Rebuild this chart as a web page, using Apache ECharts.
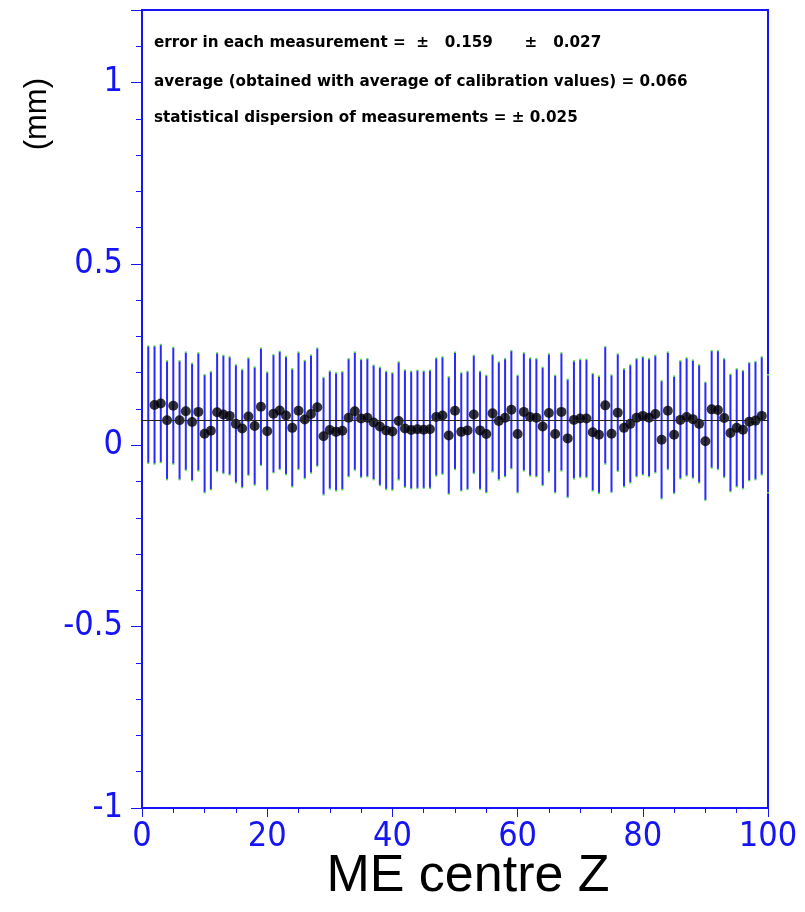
<!DOCTYPE html>
<html>
<head>
<meta charset="utf-8">
<script src="https://cdn.jsdelivr.net/npm/echarts@6/dist/echarts.min.js"></script>
<style>
  html, body { margin: 0; padding: 0; background: #fff; }
  #chart { width: 805px; height: 912px; }
</style>
</head>
<body>
<div id="chart"></div>
<script>
// measurement position along Z (one per ME)
const zPos = [
  1, 2, 3, 4, 5, 6, 7, 8, 9, 10, 11, 12, 13, 14, 15, 16, 17, 18, 19, 20,
  21, 22, 23, 24, 25, 26, 27, 28, 29, 30, 31, 32, 33, 34, 35, 36, 37, 38, 39, 40,
  41, 42, 43, 44, 45, 46, 47, 48, 49, 50, 51, 52, 53, 54, 55, 56, 57, 58, 59, 60,
  61, 62, 63, 64, 65, 66, 67, 68, 69, 70, 71, 72, 73, 74, 75, 76, 77, 78, 79, 80,
  81, 82, 83, 84, 85, 86, 87, 88, 89, 90, 91, 92, 93, 94, 95, 96, 97, 98, 99, 100
]
// measured value (mm)
const measured = [
  0.112, 0.111, 0.115, 0.069, 0.109, 0.069, 0.094, 0.064, 0.092, 0.032,
  0.040, 0.091, 0.085, 0.081, 0.059, 0.046, 0.079, 0.053, 0.106, 0.039,
  0.087, 0.096, 0.082, 0.048, 0.095, 0.071, 0.086, 0.105, 0.025, 0.042,
  0.037, 0.040, 0.076, 0.094, 0.074, 0.076, 0.063, 0.052, 0.041, 0.038,
  0.067, 0.046, 0.042, 0.044, 0.043, 0.044, 0.078, 0.082, 0.027, 0.095,
  0.037, 0.041, 0.085, 0.041, 0.031, 0.088, 0.067, 0.076, 0.098, 0.031,
  0.092, 0.078, 0.076, 0.052, 0.089, 0.031, 0.092, 0.019, 0.070, 0.074,
  0.074, 0.036, 0.029, 0.110, 0.032, 0.090, 0.048, 0.059, 0.076, 0.081,
  0.076, 0.086, 0.015, 0.095, 0.029, 0.070, 0.078, 0.072, 0.059, 0.011,
  0.099, 0.097, 0.075, 0.034, 0.048, 0.043, 0.065, 0.068, 0.081, 0.032
]
// error on each measurement (mm)
const errors = [
  0.161, 0.162, 0.162, 0.163, 0.160, 0.163, 0.162, 0.161, 0.162, 0.162,
  0.162, 0.163, 0.162, 0.162, 0.162, 0.162, 0.161, 0.162, 0.161, 0.162,
  0.162, 0.162, 0.162, 0.162, 0.161, 0.162, 0.162, 0.162, 0.161, 0.162,
  0.162, 0.162, 0.162, 0.162, 0.162, 0.162, 0.157, 0.162, 0.162, 0.161,
  0.162, 0.161, 0.161, 0.162, 0.161, 0.162, 0.162, 0.161, 0.161, 0.161,
  0.162, 0.162, 0.162, 0.162, 0.161, 0.161, 0.162, 0.162, 0.162, 0.161,
  0.162, 0.162, 0.162, 0.162, 0.162, 0.161, 0.162, 0.162, 0.162, 0.162,
  0.162, 0.161, 0.161, 0.161, 0.161, 0.161, 0.162, 0.162, 0.162, 0.162,
  0.162, 0.161, 0.162, 0.161, 0.161, 0.162, 0.162, 0.162, 0.162, 0.162,
  0.161, 0.163, 0.163, 0.161, 0.162, 0.162, 0.162, 0.162, 0.162, 0.162
]
const average = 0.066
const notes = [
  'error in each measurement =  \u00b1   0.159      \u00b1   0.027',
  'average (obtained with average of calibration values) = 0.066',
  'statistical dispersion of measurements = \u00b1 0.025'
]
const xTicks = [0, 20, 40, 60, 80, 100]
const yTicks = [-1, -0.5, 0, 0.5, 1]

const blue = '#1414f5'
const tickFont = '"DejaVu Sans Condensed", "Liberation Sans", sans-serif'

const chart = echarts.init(document.getElementById('chart'))

const barData = zPos.map((z, i) => [z, measured[i], errors[i]])
// the end points show no marker in the original plot
const dotData = zPos.map((z, i) => [z, measured[i]]).slice(1, -1)

const option = {
  animation: false,
  grid: {
    left: 142, right: 37, top: 10, bottom: 104,
    outerBoundsMode: 'none',
    containLabel: false,
    show: true, borderColor: blue, borderWidth: 2, backgroundColor: 'transparent'
  },
  xAxis: {
    type: 'value',
    min: xTicks[0], max: xTicks[xTicks.length - 1], interval: 20,
    name: 'ME centre Z',
    nameLocation: 'middle',
    nameGap: 43,
    nameMoveOverlap: false,
    nameTextStyle: { fontSize: 52, color: '#000', fontFamily: '"Liberation Sans", Arial, sans-serif', padding: [0, 0, 0, 26] },
    axisLine: { onZero: false, lineStyle: { color: blue, width: 2 } },
    axisTick: { show: true, inside: false, length: 9, lineStyle: { color: blue, width: 1 } },
    minorTick: { show: true, splitNumber: 4, length: 5, lineStyle: { color: blue, width: 1 } },
    splitLine: { show: false },
    axisLabel: { color: blue, fontSize: 34, fontFamily: tickFont, margin: 12 }
  },
  yAxis: {
    type: 'value',
    min: yTicks[0], max: 1.2, interval: 0.5,
    axisLine: { show: true, onZero: false, lineStyle: { color: blue, width: 2 } },
    axisTick: { show: true, inside: false, length: 11, lineStyle: { color: blue, width: 1 } },
    minorTick: { show: true, splitNumber: 5, length: 6, lineStyle: { color: blue, width: 1 } },
    splitLine: { show: false },
    axisLabel: {
      color: blue, fontSize: 34, fontFamily: tickFont, margin: 19,
      showMaxLabel: false,
      formatter: v => (yTicks.indexOf(v) >= 0 ? String(v) : '')
    }
  },
  graphic: [
    {
      type: 'text', left: 22, top: 78, rotation: Math.PI / 2,
      style: { text: '(mm)', fontSize: 31, fill: '#000', fontFamily: '"Liberation Sans", Arial, sans-serif' }
    },
    ...notes.map((t, i) => ({
      type: 'text', left: 154, top: [36, 75, 111][i],
      style: { text: t, fontSize: 15.2, fontWeight: 'bold', fill: '#000', fontFamily: '"DejaVu Sans", sans-serif' }
    }))
  ],
  series: [
    {
      type: 'custom',
      name: 'error',
      data: barData,
      z: 2,
      clip: false,
      renderItem: (params, api) => {
        const z = api.value(0), v = api.value(1), e = api.value(2)
        const top = api.coord([z, v + e])
        const bot = api.coord([z, v - e])
        return {
          type: 'group',
          children: [
            { type: 'line', shape: { x1: top[0], y1: top[1], x2: bot[0], y2: bot[1] },
              style: { stroke: '#2a2af8', lineWidth: 2 } },
            { type: 'rect', shape: { x: top[0] - 1, y: top[1] - 1, width: 2, height: 1.5 },
              style: { fill: '#55e055' } },
            { type: 'rect', shape: { x: bot[0] - 1, y: bot[1] - 0.5, width: 2, height: 1.5 },
              style: { fill: '#55e055' } }
          ]
        }
      }
    },
    {
      type: 'line',
      name: 'average',
      data: [],
      markLine: {
        silent: true, symbol: 'none', label: { show: false },
        lineStyle: { color: '#222', width: 1, type: 'solid' },
        data: [{ yAxis: average }]
      }
    },
    {
      type: 'scatter',
      name: 'measurement',
      data: dotData,
      symbol: 'circle',
      symbolSize: 10,
      itemStyle: { color: '#000' },
      z: 4
    }
  ]
}

chart.setOption(option)
</script>
</body>
</html>
